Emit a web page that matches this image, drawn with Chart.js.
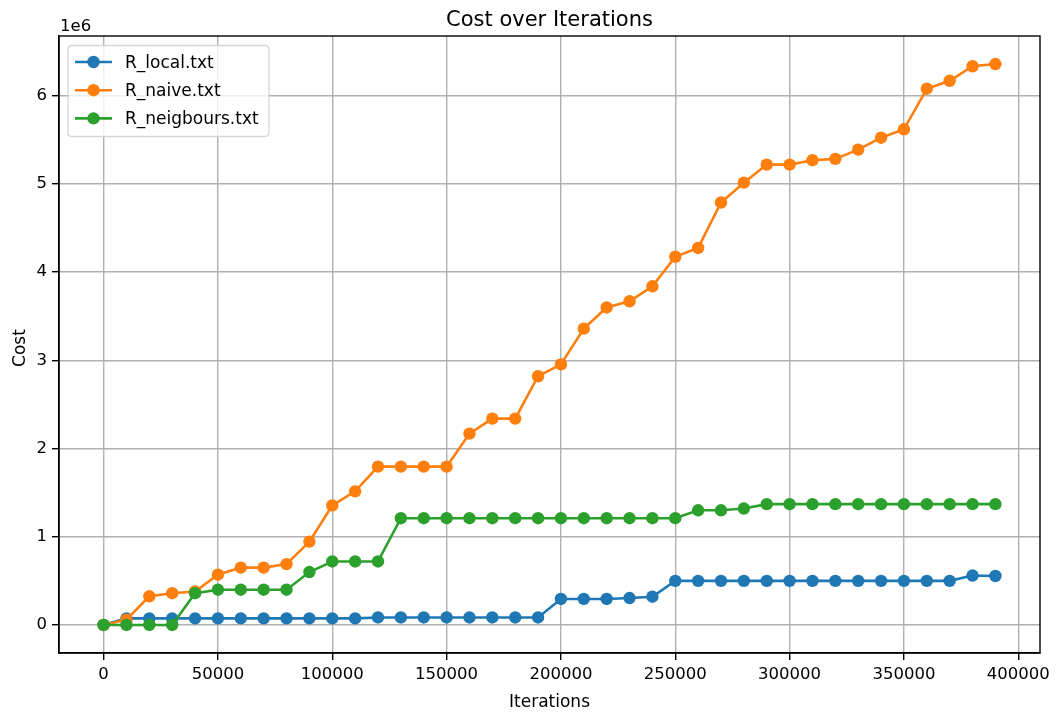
<!DOCTYPE html>
<html>
<head>
<meta charset="utf-8">
<title>Cost over Iterations</title>
<script src="https://cdn.jsdelivr.net/npm/chart.js@4.4.1/dist/chart.umd.min.js"></script>
<style>
  html, body { margin: 0; padding: 0; background: #ffffff; }
  #wrap { width: 1057px; height: 715px; position: relative; }
</style>
</head>
<body>
<div id="wrap"><canvas id="costChart"></canvas></div>
<script>
// Iteration checkpoints (x) and the cost recorded for each run file
const iterations = [
  0, 10000, 20000, 30000, 40000, 50000, 60000, 70000, 80000, 90000,
  100000, 110000, 120000, 130000, 140000, 150000, 160000, 170000, 180000, 190000,
  200000, 210000, 220000, 230000, 240000, 250000, 260000, 270000, 280000, 290000,
  300000, 310000, 320000, 330000, 340000, 350000, 360000, 370000, 380000, 390000
];

const localCost = [
  0, 75000, 75000, 75000, 75000, 75000, 75000, 75000, 75000, 75000,
  75000, 75000, 85000, 85000, 85000, 85000, 85000, 85000, 85000, 85000,
  295000, 295000, 295000, 305000, 320000, 500000, 500000, 500000, 500000, 500000,
  500000, 500000, 500000, 500000, 500000, 500000, 500000, 500000, 560000, 555000
];

const naiveCost = [
  0, 60000, 325000, 360000, 380000, 570000, 650000, 650000, 690000, 945000,
  1355000, 1515000, 1795000, 1795000, 1795000, 1795000, 2170000, 2340000, 2340000, 2820000,
  2955000, 3360000, 3600000, 3670000, 3840000, 4175000, 4275000, 4790000, 5015000, 5220000,
  5220000, 5270000, 5285000, 5390000, 5525000, 5620000, 6080000, 6170000, 6335000, 6360000
];

const neighboursCost = [
  0, 0, 0, 0, 360000, 400000, 400000, 400000, 400000, 600000,
  720000, 720000, 720000, 1210000, 1210000, 1210000, 1210000, 1210000, 1210000, 1210000,
  1210000, 1210000, 1210000, 1210000, 1210000, 1210000, 1300000, 1300000, 1320000, 1370000,
  1370000, 1370000, 1370000, 1370000, 1370000, 1370000, 1370000, 1370000, 1370000, 1370000
];

const seriesNames = ['R_local.txt', 'R_naive.txt', 'R_neigbours.txt'];
const seriesColors = ['#1f77b4', '#ff7f0e', '#2ca02c'];

const xTickValues = [0, 50000, 100000, 150000, 200000, 250000, 300000, 350000, 400000];
const xTickLabels = ['0', '50000', '100000', '150000', '200000', '250000', '300000', '350000', '400000'];
const yTickValues = [0, 1000000, 2000000, 3000000, 4000000, 5000000, 6000000];
const yTickLabels = ['0', '1', '2', '3', '4', '5', '6'];

const chartTitle = 'Cost over Iterations';
const xAxisTitle = 'Iterations';
const yAxisTitle = 'Cost';
const yOffsetText = '1e6';

const FONT = '"DejaVu Sans", "Liberation Sans", sans-serif';
const TICK_PX = 16.5;
const LABEL_PX = 17;

const seriesValues = [localCost, naiveCost, neighboursCost];

const datasets = seriesNames.map((name, i) => ({
  label: name,
  data: iterations.map((x, j) => ({ x: x, y: seriesValues[i][j] })),
  borderColor: seriesColors[i],
  backgroundColor: seriesColors[i],
  pointBackgroundColor: seriesColors[i],
  pointBorderColor: seriesColors[i],
  borderWidth: 2.6,
  pointRadius: 6.2,
  pointHoverRadius: 6.2,
  pointBorderWidth: 0,
  tension: 0,
  // later series sit on top of earlier ones
  order: seriesNames.length - 1 - i
}));

// data range padded by 5% on each side
const xMin = -19500, xMax = 409500;
const yMin = -318000, yMax = 6678000;

// frame, titles, offset text and legend box
const decorations = {
  id: 'decorations',
  afterDraw(chart) {
    const ctx = chart.ctx;
    const a = chart.chartArea;
    ctx.save();

    // axes frame
    ctx.strokeStyle = '#000000';
    ctx.lineWidth = 1.4;
    ctx.strokeRect(a.left, a.top, a.right - a.left, a.bottom - a.top);

    ctx.fillStyle = '#000000';
    ctx.textBaseline = 'alphabetic';

    // chart title
    ctx.font = '21px ' + FONT;
    ctx.textAlign = 'center';
    ctx.fillText(chartTitle, (a.left + a.right) / 2, 26);

    // axis titles
    ctx.font = LABEL_PX + 'px ' + FONT;
    ctx.fillText(xAxisTitle, (a.left + a.right) / 2, 706.5);
    ctx.save();
    ctx.translate(24.5, 348);
    ctx.rotate(-Math.PI / 2);
    ctx.fillText(yAxisTitle, 0, 0);
    ctx.restore();

    // scale multiplier above the y axis
    ctx.font = TICK_PX + 'px ' + FONT;
    ctx.textAlign = 'left';
    ctx.fillText(yOffsetText, a.left + 1, 30.5);

    // legend
    const lx = 68, ly = 45.5, lw = 201, lh = 91, r = 4;
    ctx.beginPath();
    ctx.moveTo(lx + r, ly);
    ctx.lineTo(lx + lw - r, ly);
    ctx.quadraticCurveTo(lx + lw, ly, lx + lw, ly + r);
    ctx.lineTo(lx + lw, ly + lh - r);
    ctx.quadraticCurveTo(lx + lw, ly + lh, lx + lw - r, ly + lh);
    ctx.lineTo(lx + r, ly + lh);
    ctx.quadraticCurveTo(lx, ly + lh, lx, ly + lh - r);
    ctx.lineTo(lx, ly + r);
    ctx.quadraticCurveTo(lx, ly, lx + r, ly);
    ctx.closePath();
    ctx.fillStyle = 'rgba(255,255,255,0.8)';
    ctx.fill();
    ctx.strokeStyle = 'rgba(204,204,204,0.8)';
    ctx.lineWidth = 1.3;
    ctx.stroke();

    chart.data.datasets.forEach((ds, i) => {
      const cy = 62 + i * 28.2;
      ctx.strokeStyle = ds.borderColor;
      ctx.lineWidth = 2.6;
      ctx.beginPath();
      ctx.moveTo(75, cy);
      ctx.lineTo(112, cy);
      ctx.stroke();
      ctx.fillStyle = ds.borderColor;
      ctx.beginPath();
      ctx.arc(93.5, cy, 6.2, 0, Math.PI * 2);
      ctx.fill();
      ctx.fillStyle = '#000000';
      ctx.font = LABEL_PX + 'px ' + FONT;
      ctx.textAlign = 'left';
      ctx.fillText(ds.label, 125, cy + 6);
    });

    ctx.restore();
  }
};

const ctx = document.getElementById('costChart');
new Chart(ctx, {
  type: 'line',
  data: { datasets: datasets },
  options: {
    responsive: true,
    maintainAspectRatio: false,
    animation: false,
    devicePixelRatio: 1,
    layout: { padding: { left: 0, top: 36, right: 17, bottom: 0 } },
    plugins: {
      legend: { display: false },
      title: { display: false },
      tooltip: { enabled: false }
    },
    scales: {
      x: {
        type: 'linear',
        min: xMin,
        max: xMax,
        afterBuildTicks: (scale) => { scale.ticks = xTickValues.map(v => ({ value: v })); },
        afterFit: (scale) => { scale.height = 62; },
        ticks: {
          autoSkip: false,
          maxRotation: 0,
          padding: 5,
          color: '#000000',
          font: { family: FONT, size: TICK_PX },
          callback: (value, index) => xTickLabels[index]
        },
        grid: {
          color: '#b0b0b0',
          lineWidth: 1.4,
          drawTicks: true,
          tickLength: 7,
          tickColor: '#000000',
          tickWidth: 1.4
        },
        border: { display: true, color: '#000000', width: 1.4 }
      },
      y: {
        type: 'linear',
        min: yMin,
        max: yMax,
        afterBuildTicks: (scale) => { scale.ticks = yTickValues.map(v => ({ value: v })); },
        afterFit: (scale) => { scale.width = 59; },
        ticks: {
          autoSkip: false,
          padding: 5,
          color: '#000000',
          font: { family: FONT, size: TICK_PX },
          callback: (value, index) => yTickLabels[index]
        },
        grid: {
          color: '#b0b0b0',
          lineWidth: 1.4,
          drawTicks: true,
          tickLength: 7,
          tickColor: '#000000',
          tickWidth: 1.4
        },
        border: { display: true, color: '#000000', width: 1.4 }
      }
    }
  },
  plugins: [decorations]
});
</script>
</body>
</html>
